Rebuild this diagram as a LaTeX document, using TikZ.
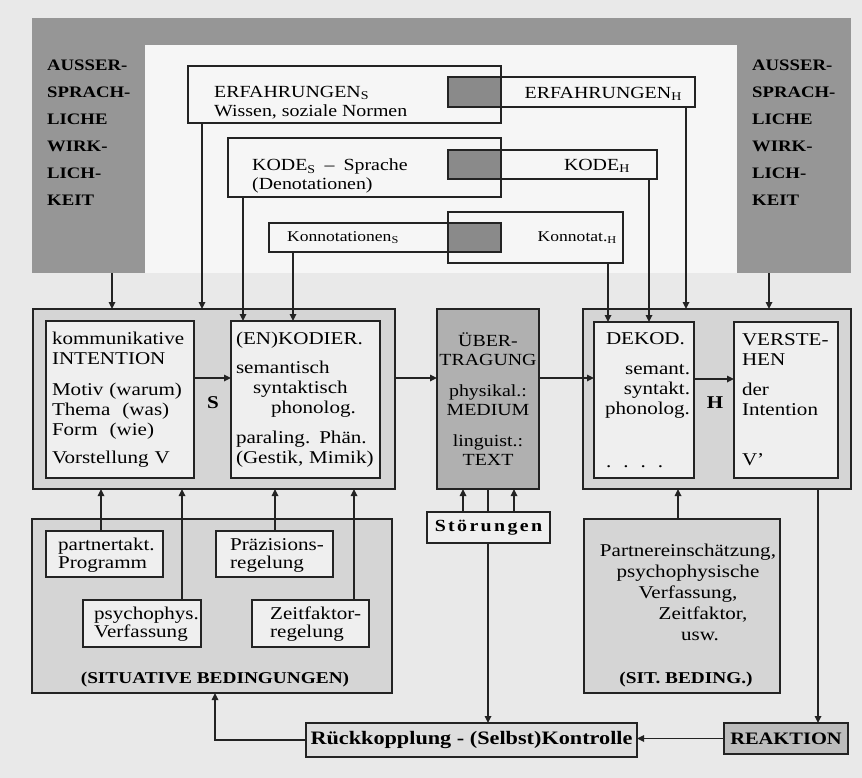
\documentclass[tikz,border=0pt]{standalone}
\usepackage{fontspec}
\setmainfont{Liberation Serif}[FakeStretch=1.17]
\usetikzlibrary{arrows.meta}
\definecolor{bgc}{RGB}{233,233,233}
\definecolor{innerc}{RGB}{246,246,246}
\definecolor{framec}{RGB}{150,150,150}
\definecolor{darksq}{RGB}{138,138,138}
\definecolor{uec}{RGB}{176,176,176}
\definecolor{outc}{RGB}{213,213,213}
\definecolor{inc}{RGB}{239,239,239}
\definecolor{reakc}{RGB}{188,188,188}
\definecolor{rkc}{RGB}{222,222,222}
\definecolor{inkc}{RGB}{35,35,35}
\tikzset{
  ln/.style={draw=inkc, line width=1.6pt},
  arr/.style={ln, -{Triangle[length=7pt,width=6.5pt]}},
  bx/.style={draw=inkc, line width=1.4pt, inner sep=0pt, outer sep=0pt},
  bxn/.style={inner sep=0pt, outer sep=0pt},
  bxd/.style={draw=inkc, line width=1.4pt},
  fr/.style={fill=framec, inner sep=0pt, outer sep=0pt},
  fa/.style={font=\fontsize{18}{20}\selectfont},
  ftop/.style={font=\fontsize{17}{19}\selectfont},
  fsm/.style={font=\fontsize{15}{17}\selectfont},
  fbold/.style={font=\fontsize{#1}{#1}\selectfont\bfseries},
  aw/.style={font=\fontsize{16}{27}\selectfont\bfseries, align=left, inner sep=0pt},
  sbox/.style={bx, fill=inc},
  stxt/.style={font=\fontsize{18}{18}\selectfont, align=left, anchor=west, inner sep=0pt},
}
\begin{document}
\begin{tikzpicture}[x=1pt,y=-1pt]
\fill[bgc] (0,0) rectangle (862,778);
\useasboundingbox (0,0) rectangle (862,778);
\fill[innerc] (145,45) rectangle (737,273);
% outer frame (ausser-sprachliche Wirklichkeit)
\node[fr, minimum width=819, minimum height=27] (band) at (441.5,31.5) {};
\node[fr, minimum width=113, minimum height=255] (awL) at (88.5,145.5) {};
\node[fr, minimum width=114, minimum height=255] (awR) at (794,145.5) {};
\node[aw, anchor=west] (awLt) at (47,133) {AUSSER-\\SPRACH-\\LICHE\\WIRK-\\LICH-\\KEIT};
\node[aw, anchor=west] (awRt) at (752,133) {AUSSER-\\SPRACH-\\LICHE\\WIRK-\\LICH-\\KEIT};
% top boxes
\node[bxn, minimum width=313, minimum height=57] (ERFS) at (344.5,94.5) {};
\node[bxn, minimum width=273, minimum height=59] (KODES) at (364.5,167.5) {};
\node[bxn, minimum width=232, minimum height=29] (KONS) at (385,237.5) {};
\node[bxn, minimum width=247, minimum height=30] (ERFH) at (571.5,92) {};
\node[bxn, minimum width=209, minimum height=29] (KODEH) at (552.5,164.5) {};
\node[bxn, minimum width=175, minimum height=51] (KONH) at (535.5,237.5) {};
\fill[darksq] (ERFH.north west) rectangle (ERFS.east |- ERFH.south);
\fill[darksq] (KODEH.north west) rectangle (KODES.east |- KODEH.south);
\fill[darksq] (KONH.west |- KONS.north) rectangle (KONS.south east);
\foreach \n in {ERFS,KODES,KONS,ERFH,KODEH,KONH}
  \draw[bxd] (\n.north west) rectangle (\n.south east);
\node[ftop, align=left, anchor=west, inner sep=0pt] (ERFSt) at (214,102.5) {ERFAHRUNGEN\textsubscript{S}\\Wissen, soziale Normen};
\node[ftop, align=left, anchor=west, inner sep=0pt] (KODESt) at (252,176) {KODE\textsubscript{S}\hspace{9pt}–\hspace{9pt}Sprache\\(Denotationen)};
\node[fsm, anchor=west, inner sep=0pt] (KONSt) at (287,238) {Konnotationen\textsubscript{S}};
\node[ftop, anchor=east, inner sep=0pt] (ERFHt) at (682,94) {ERFAHRUNGEN\textsubscript{H}};
\node[ftop, anchor=east, inner sep=0pt] (KODEHt) at (630,166) {KODE\textsubscript{H}};
\node[fsm, anchor=east, inner sep=0pt] (KONHt) at (617,238) {Konnotat.\textsubscript{H}};
% middle row
\node[bx, fill=outc, minimum width=362, minimum height=180] (LO) at (214,399) {};
\node[bx, fill=inc, fa, minimum width=148, minimum height=157, text width=136, align=left] (KI) at (120,399.5)
  {kommunikative\\INTENTION\\[11pt]Motiv (warum)\\Thema\ \ (was)\\Form\ \ (wie)\\[8pt]Vorstellung V};
\node[bx, fill=inc, fa, minimum width=149, minimum height=157, text width=139, align=left] (EN) at (305.5,399.5)
  {(EN)KODIER.\\[9pt]semantisch\\\hspace*{17pt}syntaktisch\\\hspace*{35pt}phonolog.\\[10pt]paraling. Phän.\\(Gestik, Mimik)};
\node[bx, fill=uec, minimum width=102, minimum height=180, text width=102, align=center, font=\fontsize{17}{19.5}\selectfont] (UE) at (488,399)
  {ÜBER-\\TRAGUNG\\[11pt]physikal.:\\MEDIUM\\[11pt]linguist.:\\TEXT};
\node[bx, fill=outc, minimum width=268, minimum height=180] (RO) at (717,399) {};
\node[bx, fill=inc, fa, minimum width=100, minimum height=156, text width=92, align=left] (DE) at (644,400)
  {\hspace*{8pt}DEKOD.\\[10pt]\hspace*{\fill}semant.\\\hspace*{\fill}syntakt.\\\hspace*{\fill}phonolog.\\[33pt]\hspace*{8pt}.\hspace{12pt}.\hspace{12pt}.\hspace{12pt}.};
\node[bx, fill=inc, fa, minimum width=104, minimum height=156, text width=88, align=left] (VE) at (786,400)
  {VERSTE-\\HEN\\[10pt]der\\Intention\\[30pt]V’};
\draw[arr] (KI.east |- 0,378) -- (EN.west |- 0,378);
\draw[arr] (LO.east |- 0,378) -- (UE.west |- 0,378);
\draw[arr] (UE.east |- 0,378) -- (DE.west |- 0,378);
\draw[arr] (DE.east |- 0,379) -- (VE.west |- 0,379);
\node[fbold=18] (Slab) at (213,403) {S};
\node[fbold=18] (Hlab) at (715,403) {H};
% top connectors
\draw[arr] (112,0 |- awL.south) -- (112,0 |- LO.north);
\draw[arr] (202,0 |- ERFS.south) -- (202,0 |- LO.north);
\draw[arr] (243,0 |- KODES.south) -- (243,0 |- EN.north);
\draw[arr] (293,0 |- KONS.south) -- (293,0 |- EN.north);
\draw[arr] (608,0 |- KONH.south) -- (608,0 |- DE.north);
\draw[arr] (649,0 |- KODEH.south) -- (649,0 |- DE.north);
\draw[arr] (686,0 |- ERFH.south) -- (686,0 |- RO.north);
\draw[arr] (769,0 |- awR.south) -- (769,0 |- RO.north);
% situative Bedingungen (left)
\node[bx, fill=outc, minimum width=360, minimum height=174] (SIT) at (212,606) {};
\node[sbox, minimum width=117, minimum height=46] (PT) at (104.5,554) {};
\node[sbox, minimum width=117, minimum height=46] (PR) at (274.5,554) {};
\node[sbox, minimum width=118, minimum height=47] (PS) at (142,623.5) {};
\node[sbox, minimum width=117, minimum height=47] (ZF) at (310.5,623.5) {};
\node[stxt] (PTt) at (58,555) {partnertakt.\\Programm};
\node[stxt] (PRt) at (230,555) {Präzisions-\\regelung};
\node[stxt] (PSt) at (94,624) {psychophys.\\Verfassung};
\node[stxt] (ZFt) at (270,624) {Zeitfaktor-\\regelung};
\node[fbold=16.5] (SITt) at (215,680) {(SITUATIVE BEDINGUNGEN)};
\draw[arr] (101,0 |- PT.north) -- (101,0 |- LO.south);
\draw[arr] (182,0 |- PS.north) -- (182,0 |- LO.south);
\draw[arr] (275,0 |- PR.north) -- (275,0 |- LO.south);
\draw[arr] (354,0 |- ZF.north) -- (354,0 |- LO.south);
% feedback
\node[bx, fill=rkc, minimum width=331, minimum height=34, fbold=19] (RK) at (471.5,740) {Rückkopplung - (Selbst)Kontrolle};
\draw[arr] (UE.south) -- (UE.south |- RK.north);
\node[bx, fill=inc, minimum width=123, minimum height=31, font={\fontsize{17}{17}\selectfont\bfseries\addfontfeatures{LetterSpace=14}}] (ST) at (488.5,527.5) {Störungen};
\draw[arr] (463,0 |- ST.north) -- (463,0 |- UE.south);
\draw[arr] (514,0 |- ST.north) -- (514,0 |- UE.south);
% situative Bedingungen (right)
\node[bx, fill=outc, minimum width=196, minimum height=174] (SB) at (682,606) {};
\node[align=center, font=\fontsize{18}{21}\selectfont, inner sep=0pt] (SBt) at (688,592)
  {Partnereinschätzung,\\psychophysische\\Verfassung,\\\hspace*{30pt}Zeitfaktor,\\\hspace*{24pt}usw.};
\node[fbold=16.5] (SBl) at (686,680) {(SIT. BEDING.)};
\draw[arr] (678,0 |- SB.north) -- (678,0 |- RO.south);
\node[bx, fill=reakc, minimum width=124, minimum height=31, fbold=17.5] (RE) at (786,738.5) {REAKTION};
\draw[arr] (818,0 |- RO.south) -- (818,0 |- RE.north);
\draw[arr] (RE.west) -- (RE.west -| RK.east);
\draw[arr] (RK.west) -| (215,0 |- SIT.south);
\end{tikzpicture}
\end{document}
